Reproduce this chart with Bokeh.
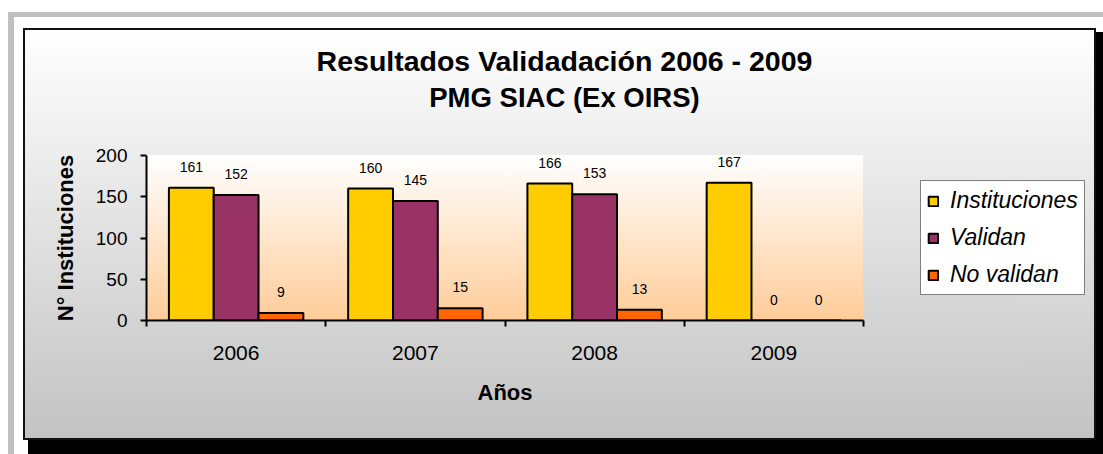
from bokeh.plotting import figure
from bokeh.models import (ColumnDataSource, Range1d, LinearAxis, FixedTicker,
                          LabelSet, Label)
from bokeh.core.properties import value
from bokeh.transform import dodge
from bokeh.embed import file_html
from bokeh.resources import INLINE

# ---- data ----
years = ["2006", "2007", "2008", "2009"]
instituciones = [161, 160, 166, 167]
validan = [152, 145, 153, 0]
no_validan = [9, 15, 13, 0]
series_keys = ["instituciones", "validan", "no_validan"]
series_names = ["Instituciones", "Validan", "No validan"]
series_colors = ["#ffcc00", "#993366", "#ff6600"]
y_ticks = [0, 50, 100, 150, 200]
y_max = 200
title_line1 = "Resultados Validadación 2006 - 2009"
title_line2 = "PMG SIAC (Ex OIRS)"
x_title = "Años"
y_title = "N° Instituciones"

FONT = "Liberation Sans"
W, H = 1103, 454
# plot area (axes box) in page pixels
PL, PR, PT, PB = 146, 863, 155, 320
ncat = len(years)
xc = [i + 0.5 for i in range(ncat)]          # category centres
bounds = list(range(ncat + 1))               # category boundaries

# chart decoration (Excel-like frame, shadow, gradients) as CSS background layers
bg_layers = [
    "linear-gradient(#ffffff, #ffcc99) %dpx %dpx / %dpx %dpx no-repeat" % (PL, PT, PR - PL, PB - PT),
    "linear-gradient(#ffffff, #c3c3c3) 25px 30px / 1069px 408px no-repeat",    # chart area
    "linear-gradient(#111111, #111111) 23px 28px / 1073px 412px no-repeat",    # chart border
    "linear-gradient(#000000, #000000) 28px 32px / 1075px 422px no-repeat",    # shadow
    "linear-gradient(#c0c0c0, #c0c0c0) 8px 12px / 1095px 5px no-repeat",       # outer band top
    "linear-gradient(#c0c0c0, #c0c0c0) 8px 12px / 6px 442px no-repeat",        # outer band left
    "#ffffff",
]

# drawing frame extends to the right edge so the legend (inside it) is not clipped
x_end = ncat * (W - PL) / (PR - PL)
p = figure(width=W, height=H,
           x_range=Range1d(0, x_end), y_range=Range1d(0, y_max),
           output_backend="svg", toolbar_location=None, title_location=None,
           x_axis_location=None, y_axis_location="left",
           min_border_left=PL, min_border_right=0,
           min_border_top=PT, min_border_bottom=H - PB,
           background_fill_color=None, border_fill_color=None,
           outline_line_color=None)
p.styles = {"background": ", ".join(bg_layers)}
p.xgrid.visible = False
p.ygrid.visible = False

# y axis
ya = p.yaxis[0]
ya.ticker = FixedTicker(ticks=y_ticks)
ya.major_tick_out = 6
ya.major_tick_in = 0
ya.minor_tick_out = 0
ya.minor_tick_in = 0
ya.axis_line_width = 2
ya.major_tick_line_width = 2
ya.major_label_text_font = FONT
ya.major_label_text_font_size = "19px"
ya.major_label_text_color = "black"
ya.major_label_standoff = 13
ya.axis_label = y_title
ya.axis_label_text_font = FONT
ya.axis_label_text_font_style = "bold"
ya.axis_label_text_font_size = "22px"
ya.axis_label_text_color = "black"
ya.axis_label_standoff = 15

# x axis: boundary ticks + category labels
bax = LinearAxis(ticker=FixedTicker(ticks=bounds), bounds=(0, ncat),
                 major_tick_out=6, major_tick_in=0, minor_tick_out=0, minor_tick_in=0,
                 major_label_text_font_size="0px", major_label_standoff=0,
                 axis_line_width=2, major_tick_line_width=2)
p.add_layout(bax, "below")
cax = LinearAxis(ticker=FixedTicker(ticks=xc), bounds=(0, ncat),
                 major_label_overrides={c: y for c, y in zip(xc, years)},
                 axis_line_color=None, major_tick_line_color=None,
                 minor_tick_line_color=None,
                 major_tick_out=0, major_tick_in=0, minor_tick_out=0, minor_tick_in=0,
                 major_label_standoff=19,
                 major_label_text_font=FONT, major_label_text_font_size="21px",
                 major_label_text_color="black")
p.add_layout(cax, "below")
# x-axis title, centred under the plot area
p.add_layout(Label(x=(PL + PR) / 2, y=392, x_units="canvas", y_units="canvas", text=x_title,
                   text_align="center", text_baseline="middle", text_font=FONT,
                   text_font_style="bold", text_font_size="22px", text_color="black"), "below")

# bars
data = dict(xc=xc, years=years, instituciones=instituciones, validan=validan, no_validan=no_validan)
for k in series_keys:
    data[k + "_txt"] = [str(v) for v in data[k]]
src = ColumnDataSource(data)
offsets = [-0.25, 0.0, 0.25]
for k, name, col, off in zip(series_keys, series_names, series_colors, offsets):
    p.vbar(x=dodge("xc", off), top=k, width=0.25, source=src,
           fill_color=col, line_color="black", line_width=2, legend_label=name)
    p.add_layout(LabelSet(x=dodge("xc", off), y=k, text=k + "_txt",
                          source=src, y_offset=21, text_align="center", text_baseline="middle",
                          text_font=value(FONT), text_font_size=value("14px"),
                          text_color="black"))

# title: labels placed in the top panel (not clipped by the plot area)
for txt, yy, fs in zip([title_line1, title_line2], [60, 97], ["28.5px", "27.5px"]):
    p.add_layout(Label(x=564, y=yy, x_units="canvas", y_units="canvas", text=txt,
                       text_align="center", text_baseline="middle", text_font=FONT,
                       text_font_style="bold", text_font_size=fs, text_color="black"), "above")

# legend
leg = p.legend[0]
leg.location = (920 - PL, 25)
leg.margin = 0
leg.padding = 6
leg.spacing = 10
leg.glyph_width = 12
leg.glyph_height = 12
leg.label_standoff = 11
leg.label_text_font = FONT
leg.label_text_font_style = "italic"
leg.label_text_font_size = "23px"
leg.label_text_color = "black"
leg.border_line_color = "black"
leg.border_line_width = 1.5
leg.background_fill_color = "white"
leg.background_fill_alpha = 1

open("out.html", "w").write(file_html(p, INLINE))
